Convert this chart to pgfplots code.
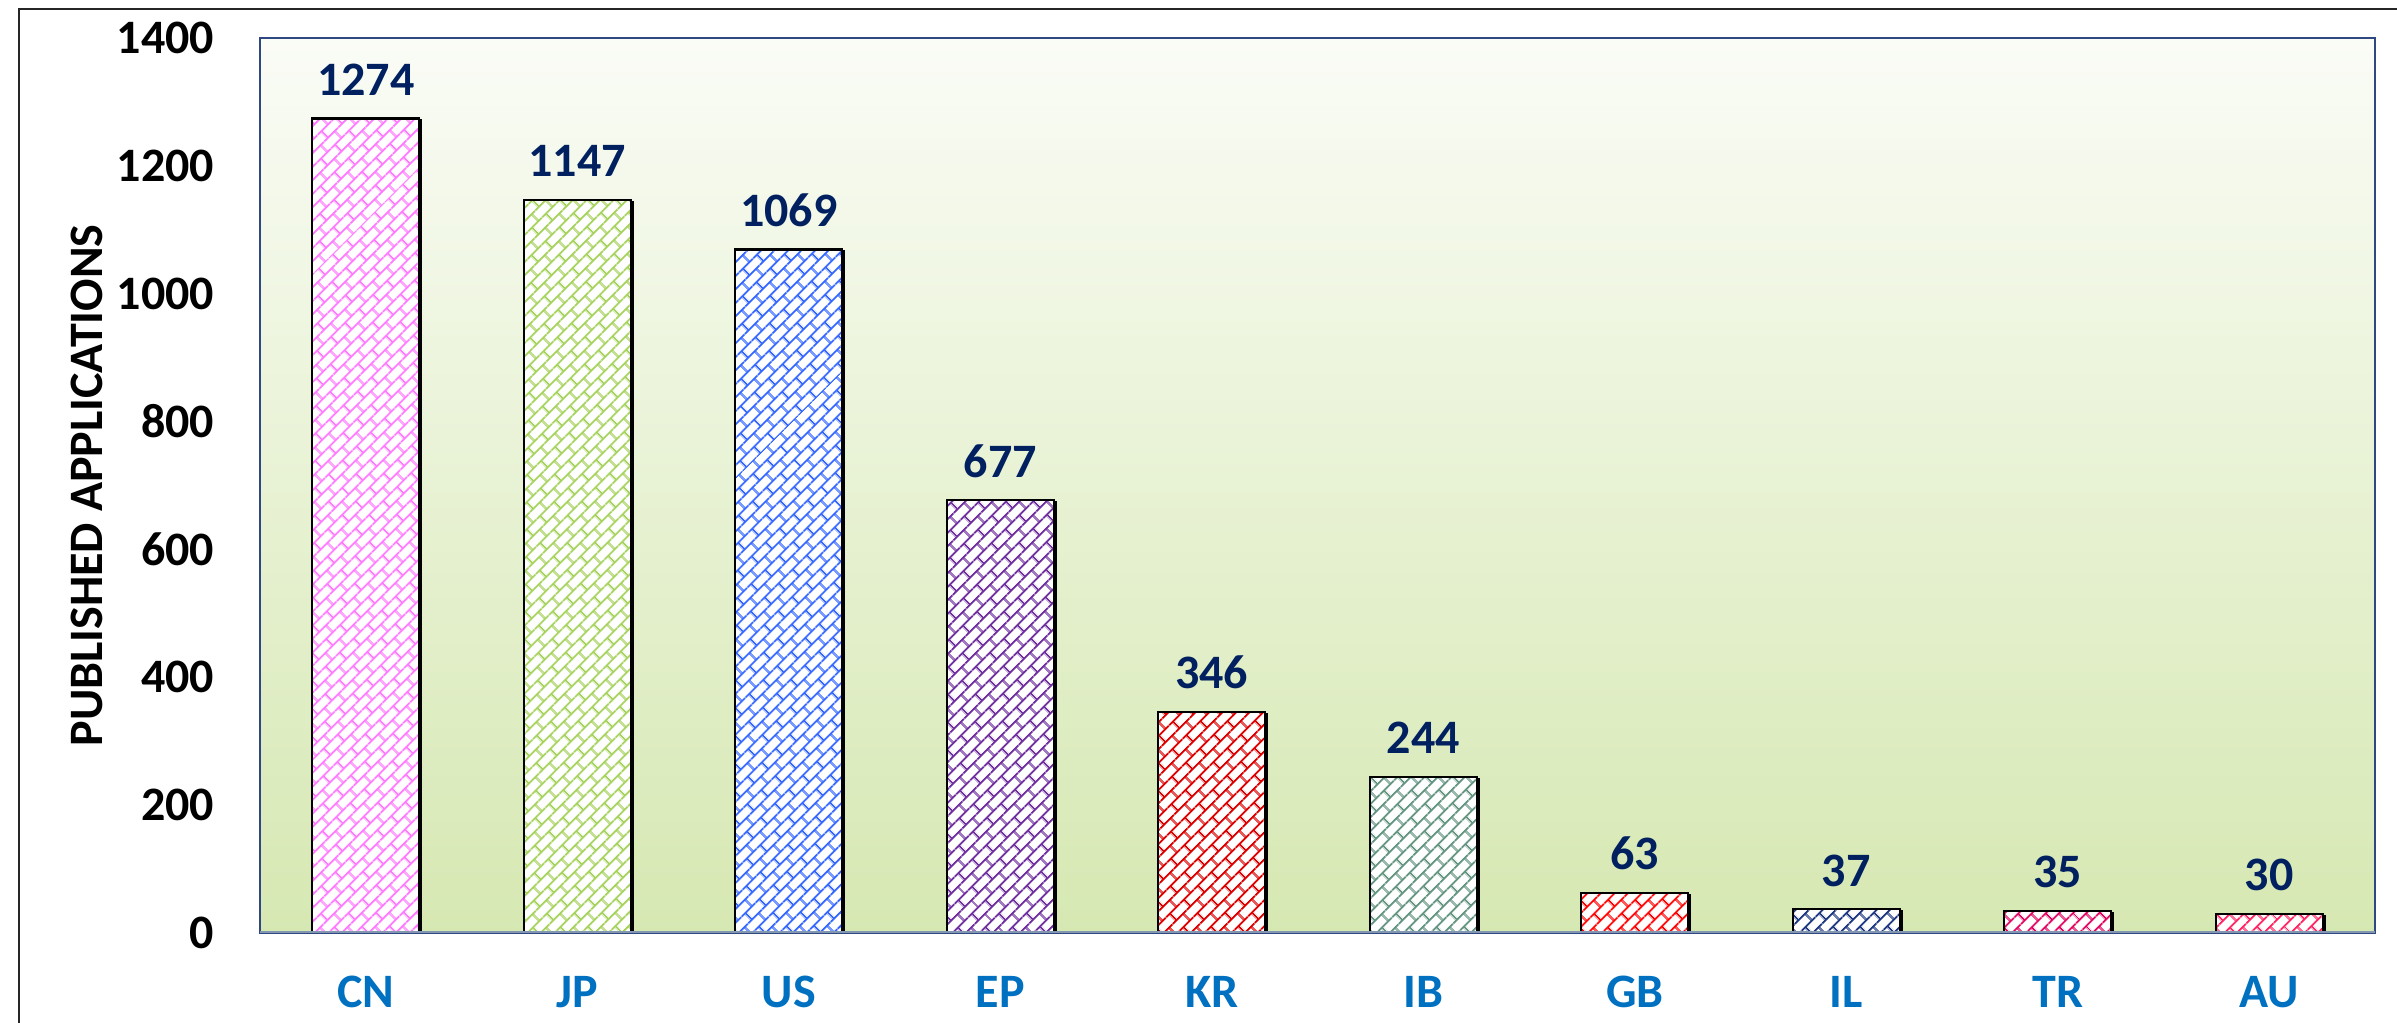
\documentclass[border=0pt]{standalone}
\usepackage{fontspec}
\setmainfont{Carlito}
\usepackage{pgfplots}
\pgfplotsset{compat=1.18}
\usetikzlibrary{patterns.meta}

\tikzdeclarepattern{
  name=dbrick,
  type=uncolored,
  bounding box={(0,0) and (5pt,5pt)},
  tile size={(5pt,5pt)},
  tile transformation={rotate=45},
  code={
    \draw[line width=0.5pt] (-0.1pt,1.25pt)--(5.1pt,1.25pt);
    \draw[line width=0.5pt] (-0.1pt,3.75pt)--(5.1pt,3.75pt);
    \draw[line width=0.5pt] (1.25pt,1.25pt)--(1.25pt,3.75pt);
    \draw[line width=0.5pt] (3.75pt,3.75pt)--(3.75pt,5.1pt);
    \draw[line width=0.5pt] (3.75pt,-0.1pt)--(3.75pt,1.25pt);
  }
}

\definecolor{cCN}{RGB}{255,120,255}
\definecolor{cJP}{RGB}{165,210,90}
\definecolor{cUS}{RGB}{51,102,255}
\definecolor{cEP}{RGB}{112,48,160}
\definecolor{cKR}{RGB}{220,0,0}
\definecolor{cIB}{RGB}{100,150,130}
\definecolor{cGB}{RGB}{255,0,0}
\definecolor{cIL}{RGB}{31,56,130}
\definecolor{cTR}{RGB}{225,0,95}
\definecolor{cAU}{RGB}{255,40,100}
\definecolor{labcol}{RGB}{0,32,96}
\definecolor{xcol}{RGB}{0,112,192}
\definecolor{framecol}{RGB}{47,72,130}
\definecolor{botcol}{RGB}{132,151,176}
\definecolor{bgtop}{RGB}{250,252,246}
\definecolor{bgbot}{RGB}{214,232,178}

\newcommand{\lblfont}{\fontsize{12}{14}\selectfont\bfseries}

\begin{document}
\begin{tikzpicture}
\useasboundingbox (0,0) rectangle (599.25pt,255.75pt);
\draw[line width=0.7pt, black!85] (4.75pt,-3pt) -- (4.75pt,253.5pt) -- (603pt,253.5pt);
\begin{axis}[
  at={(65pt,22.5pt)}, anchor=south west,
  scale only axis,
  width=528.75pt, height=223.75pt,
  xmin=-0.5, xmax=9.5,
  ymin=0, ymax=1400,
  ytick={0,200,...,1400},
  xtick={0,...,9},
  xticklabels={CN,JP,US,EP,KR,IB,GB,IL,TR,AU},
  major tick length=0pt,
  /pgf/number format/assume math mode=true,
  /pgf/number format/1000 sep={},
  ybar,
  bar width=26.75pt,
  axis line style={draw=framecol, line width=0.6pt},
  axis background/.style={shade, top color=bgtop, bottom color=bgbot},
  yticklabel style={font=\lblfont, text=black, anchor=east, inner sep=0pt, xshift=-11.25pt},
  xticklabel style={font=\lblfont, text=xcol, anchor=base, inner sep=0pt, yshift=-18.75pt},
  ylabel={PUBLISHED APPLICATIONS},
  ylabel style={font=\lblfont, text=black, at={(axis description cs:-0.0818,0.5)}, anchor=center},
  nodes near coords,
  every node near coord/.append style={font=\lblfont, text=labcol, anchor=base, inner sep=0pt, yshift=5.75pt},
  barstyle/.style={bar shift=0pt, draw=black, line width=0.55pt, fill=white,
    preaction={fill=black, fill opacity=0.18, transform canvas={xshift=0.5pt, yshift=-0.5pt}}},
]
\addplot[barstyle, postaction={pattern=dbrick, pattern color=cCN}] coordinates {(0,1274)};
\addplot[barstyle, postaction={pattern=dbrick, pattern color=cJP}] coordinates {(1,1147)};
\addplot[barstyle, postaction={pattern=dbrick, pattern color=cUS}] coordinates {(2,1069)};
\addplot[barstyle, postaction={pattern=dbrick, pattern color=cEP}] coordinates {(3,677)};
\addplot[barstyle, postaction={pattern=dbrick, pattern color=cKR}] coordinates {(4,346)};
\addplot[barstyle, postaction={pattern=dbrick, pattern color=cIB}] coordinates {(5,244)};
\addplot[barstyle, postaction={pattern=dbrick, pattern color=cGB}] coordinates {(6,63)};
\addplot[barstyle, postaction={pattern=dbrick, pattern color=cIL}] coordinates {(7,37)};
\addplot[barstyle, postaction={pattern=dbrick, pattern color=cTR}] coordinates {(8,35)};
\addplot[barstyle, postaction={pattern=dbrick, pattern color=cAU}] coordinates {(9,30)};
\draw[botcol, line width=0.8pt] (axis cs:-0.5,0) -- (axis cs:9.5,0);
\end{axis}
\end{tikzpicture}
\end{document}
